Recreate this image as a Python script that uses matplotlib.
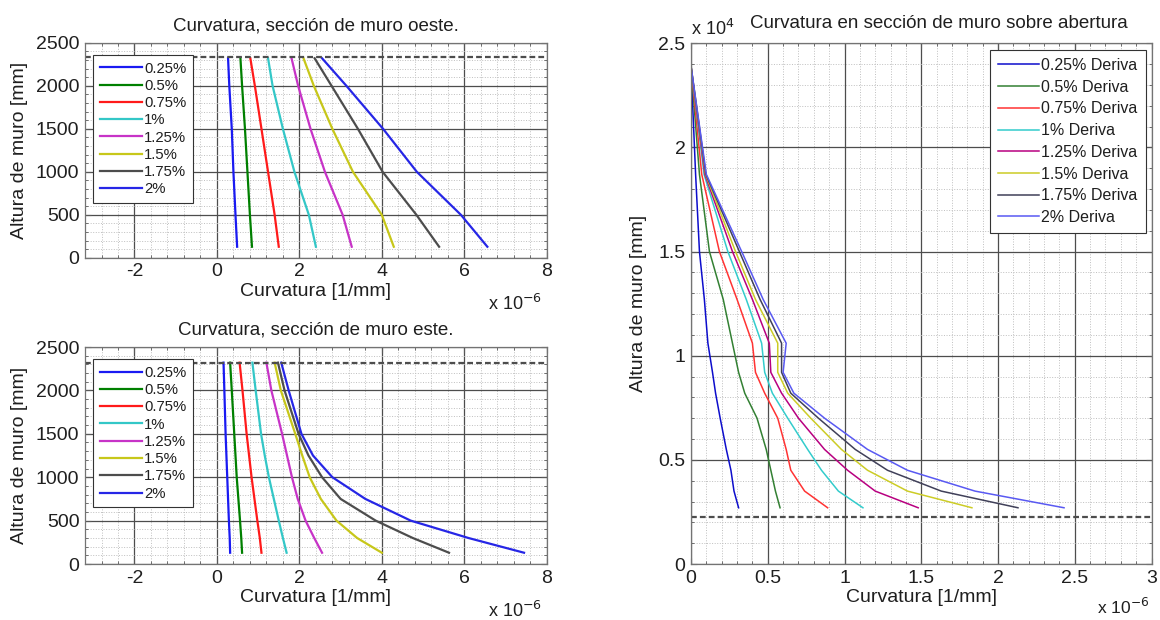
import matplotlib
matplotlib.use("Agg")
import matplotlib.pyplot as plt
from matplotlib.ticker import MultipleLocator, FuncFormatter

plt.rcParams['font.family'] = ['Liberation Sans', 'DejaVu Sans']
plt.rcParams['axes.unicode_minus'] = False

# ---------------- data ----------------
drift_labels = ["0.25%", "0.5%", "0.75%", "1%", "1.25%", "1.5%", "1.75%", "2%"]
right_labels = [d + " Deriva" for d in drift_labels]

# West wall section (curvature in 1e-6 1/mm), heights in mm
h_oeste = [130, 500, 1000, 1500, 2000, 2320]
curv_oeste = [
    [0.49, 0.45, 0.40, 0.36, 0.30, 0.27],
    [0.85, 0.80, 0.74, 0.68, 0.61, 0.57],
    [1.50, 1.40, 1.24, 1.08, 0.92, 0.81],
    [2.40, 2.23, 1.88, 1.60, 1.35, 1.24],
    [3.27, 3.05, 2.62, 2.27, 1.97, 1.81],
    [4.29, 4.00, 3.30, 2.80, 2.35, 2.10],
    [5.39, 4.84, 4.02, 3.42, 2.78, 2.37],
    [6.56, 5.92, 4.85, 4.03, 3.14, 2.55],
]
dash_oeste = 2330

# East wall section
h_este = [130, 300, 500, 750, 1000, 1250, 1500, 2000, 2320]
curv_este = [
    [0.32, 0.31, 0.29, 0.27, 0.25, 0.23, 0.21, 0.18, 0.16],
    [0.61, 0.59, 0.56, 0.52, 0.48, 0.45, 0.42, 0.36, 0.32],
    [1.08, 1.04, 0.98, 0.91, 0.84, 0.78, 0.72, 0.62, 0.55],
    [1.69, 1.60, 1.50, 1.38, 1.26, 1.16, 1.07, 0.94, 0.86],
    [2.55, 2.36, 2.15, 1.96, 1.82, 1.70, 1.58, 1.32, 1.20],
    [4.00, 3.40, 2.90, 2.52, 2.25, 2.07, 1.90, 1.55, 1.40],
    [5.63, 4.75, 3.85, 3.00, 2.55, 2.22, 1.98, 1.64, 1.48],
    [7.45, 6.10, 4.70, 3.60, 2.80, 2.33, 2.05, 1.74, 1.56],
]
dash_este = 2320

# Wall section above opening
h_abertura = [2700, 3500, 4500, 5500, 7000, 8200, 9200, 10600, 12700, 15000, 18700, 23900]
curv_abertura = [
    [0.31, 0.28, 0.26, 0.23, 0.19, 0.16, 0.14, 0.11, 0.087, 0.055, 0.03, 0.0],
    [0.58, 0.55, 0.52, 0.49, 0.43, 0.35, 0.31, 0.27, 0.21, 0.12, 0.055, 0.0],
    [0.89, 0.74, 0.65, 0.62, 0.565, 0.48, 0.42, 0.40, 0.30, 0.185, 0.07, 0.0],
    [1.12, 0.96, 0.85, 0.76, 0.63, 0.53, 0.48, 0.46, 0.36, 0.24, 0.085, 0.0],
    [1.48, 1.20, 1.02, 0.87, 0.70, 0.59, 0.52, 0.51, 0.40, 0.27, 0.09, 0.0],
    [1.83, 1.41, 1.15, 0.98, 0.78, 0.63, 0.565, 0.565, 0.42, 0.29, 0.095, 0.0],
    [2.13, 1.63, 1.28, 1.07, 0.83, 0.65, 0.59, 0.59, 0.45, 0.315, 0.097, 0.0],
    [2.43, 1.85, 1.41, 1.15, 0.87, 0.67, 0.60, 0.62, 0.47, 0.33, 0.10, 0.0],
]
dash_abertura = 2250

colors_left = [(0.1, 0.1, 0.95), (0.0, 0.5, 0.0), (1.0, 0.1, 0.1), (0.2, 0.78, 0.78),
               (0.78, 0.2, 0.78), (0.78, 0.78, 0.1), (0.3, 0.3, 0.3), (0.15, 0.15, 0.9)]
colors_right = [(0.05, 0.05, 0.8), (0.2, 0.5, 0.2), (1.0, 0.2, 0.2), (0.2, 0.8, 0.8),
                (0.72, 0.0, 0.5), (0.8, 0.8, 0.15), (0.25, 0.25, 0.35), (0.35, 0.35, 0.95)]

# ---------------- figure ----------------
fig = plt.figure(figsize=(11.6, 6.2), dpi=100)
ax1 = fig.add_axes([0.0733, 0.584, 0.398, 0.347])
ax2 = fig.add_axes([0.0733, 0.0903, 0.398, 0.350])
ax3 = fig.add_axes([0.5957, 0.0903, 0.397, 0.840])

TXT = '0.12'
FS = 14


def style(ax, xmaj, xmin, ymaj, ymin):
    ax.xaxis.set_major_locator(MultipleLocator(xmaj))
    ax.xaxis.set_minor_locator(MultipleLocator(xmin))
    ax.yaxis.set_major_locator(MultipleLocator(ymaj))
    ax.yaxis.set_minor_locator(MultipleLocator(ymin))
    ax.grid(True, which='major', color='0.3', lw=0.9)
    ax.grid(True, which='minor', color='0.75', lw=0.7, ls=':')
    ax.set_axisbelow(True)
    ax.tick_params(which='both', direction='in', top=True, right=True,
                   labelsize=FS, labelcolor=TXT, color='0.35')
    ax.tick_params(which='major', length=4, pad=4)
    ax.tick_params(which='minor', length=2)
    for s in ax.spines.values():
        s.set_color('0.45')
        s.set_linewidth(0.9)


def fmt_g(v, pos):
    return '{:g}'.format(round(v, 6))


# left panels
for ax, hs, cs, dash, title in [
    (ax1, h_oeste, curv_oeste, dash_oeste, "Curvatura, sección de muro oeste."),
    (ax2, h_este, curv_este, dash_este, "Curvatura, sección de muro este."),
]:
    for xs, c, lab in zip(cs, colors_left, drift_labels):
        ax.plot(xs, hs, color=c, lw=1.6, label=lab)
    ax.axhline(dash, color='0.3', lw=1.6, ls=(0, (2.6, 1.4)))
    ax.set_xlim(-3.2, 8)
    ax.set_ylim(0, 2500)
    style(ax, 2, 0.4, 500, 100)
    ax.xaxis.set_major_formatter(FuncFormatter(fmt_g))
    ax.set_title(title, fontsize=FS - 0.5, color=TXT, pad=9)
    ax.set_xlabel("Curvatura [1/mm]", fontsize=FS, color=TXT, labelpad=2)
    ax.set_ylabel("Altura de muro [mm]", fontsize=FS, color=TXT, labelpad=6)
    ax.text(0.99, -0.215, r'x 10$^{-6}$', transform=ax.transAxes, ha='right',
            va='center', fontsize=FS - 1, color=TXT)
    leg = ax.legend(loc='upper left', bbox_to_anchor=(0.017, 0.944), borderaxespad=0,
                    fontsize=10.7, handlelength=2.85, handletextpad=0.15,
                    labelspacing=0.22, borderpad=0.45, fancybox=False,
                    edgecolor='0.2', framealpha=1)
    leg.get_frame().set_linewidth(0.8)
    for t in leg.get_texts():
        t.set_color(TXT)

# right panel
for xs, c, lab in zip(curv_abertura, colors_right, right_labels):
    ax3.plot(xs, h_abertura, color=c, lw=1.1, label=lab)
ax3.axhline(dash_abertura, color='0.3', lw=1.6, ls=(0, (2.6, 1.4)))
ax3.set_xlim(0, 3)
ax3.set_ylim(0, 25000)
style(ax3, 0.5, 0.1, 5000, 1000)
ax3.xaxis.set_major_formatter(FuncFormatter(fmt_g))
ax3.yaxis.set_major_formatter(FuncFormatter(lambda v, p: fmt_g(v / 1e4, p)))
ax3.set_title("Curvatura en sección de muro sobre abertura", fontsize=FS - 0.5,
              color=TXT, x=0.538, pad=11)
ax3.set_xlabel("Curvatura [1/mm]", fontsize=FS, color=TXT, labelpad=2)
ax3.set_ylabel("Altura de muro [mm]", fontsize=FS, color=TXT, labelpad=8)
ax3.text(0.995, -0.082, r'x 10$^{-6}$', transform=ax3.transAxes, ha='right',
         va='center', fontsize=FS - 1.5, color=TXT)
ax3.text(0.0, 1.008, r'x 10$^{4}$', transform=ax3.transAxes, ha='left',
         va='bottom', fontsize=FS - 1, color=TXT)
leg = ax3.legend(loc='upper right', bbox_to_anchor=(0.987, 0.987), borderaxespad=0,
                 fontsize=11.5, handlelength=2.55, handletextpad=0.15,
                 labelspacing=0.42, borderpad=0.5, fancybox=False,
                 edgecolor='0.2', framealpha=1)
leg.get_frame().set_linewidth(0.8)
for t in leg.get_texts():
    t.set_color(TXT)

fig.savefig("out.png", dpi=100)
